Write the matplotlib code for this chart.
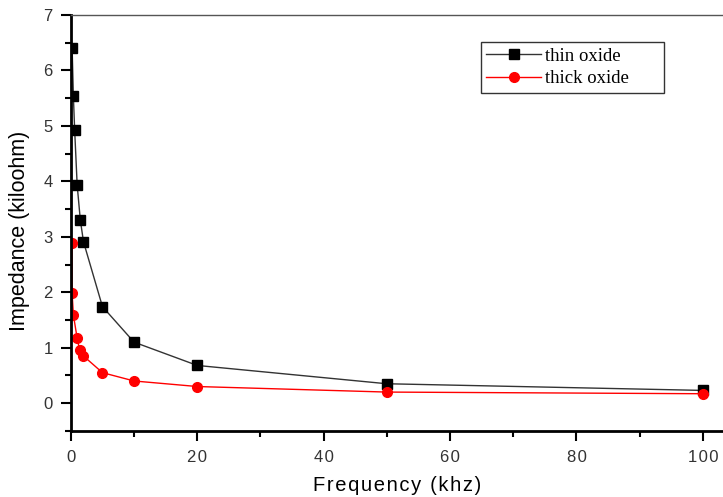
import matplotlib.pyplot as plt
from matplotlib.ticker import MultipleLocator

# frequency (khz) and impedance (kiloohm)
freq_thin = [0.2, 0.4, 0.6, 1.0, 1.5, 2, 5, 10, 20, 50, 100]
imp_thin = [6.41, 5.53, 4.93, 3.93, 3.30, 2.91, 1.74, 1.10, 0.68, 0.35, 0.23]

freq_thick = [0.2, 0.2, 0.4, 1.0, 1.4, 2, 5, 10, 20, 50, 100]
imp_thick = [2.89, 1.98, 1.59, 1.17, 0.95, 0.85, 0.55, 0.40, 0.30, 0.20, 0.17]

x_ticks = [0, 20, 40, 60, 80, 100]

fig = plt.figure(figsize=(7.23, 4.97), dpi=100)
ax = fig.add_axes([0.098, 0.133, 0.903, 0.837])

ax.plot(freq_thin, imp_thin, color="#333333", lw=1, marker="s", ms=7,
        mfc="black", mec="black", label="thin oxide")
ax.plot(freq_thick, imp_thick, color="red", lw=1, marker="o", ms=7,
        mfc="red", mec="red", label="thick oxide")

ax.set_xlim(0, 103.3)
ax.set_ylim(-0.5, 7)
ax.xaxis.set_minor_locator(MultipleLocator(10))
ax.yaxis.set_major_locator(MultipleLocator(1))
ax.yaxis.set_minor_locator(MultipleLocator(0.5))
ax.tick_params(which="major", direction="out", length=7, width=1.5,
               labelsize=12, colors="black")
ax.tick_params(which="minor", direction="out", length=4, width=1.5)
ax.tick_params(axis="y", labelcolor="#333333", pad=6)
ax.tick_params(axis="x", labelcolor="#333333", pad=7)

# spread out the digits of the x tick labels a little (hair spaces)
ax.set_xticks(x_ticks)
ax.set_xticklabels(["\u200a".join(str(t)) for t in x_ticks])
for lab in ax.get_xticklabels() + ax.get_yticklabels():
    lab.set_family("Liberation Sans")

ax.spines["left"].set_linewidth(2)
ax.spines["bottom"].set_linewidth(2)
ax.spines["top"].set_linewidth(1)
ax.spines["top"].set_color("#555555")
ax.spines["right"].set_visible(False)

ax.set_xlabel("\u200a".join("Frequency (khz)"), fontsize=14.5,
              family="Liberation Sans", labelpad=8)
ax.set_ylabel("Impedance (kiloohm)", fontsize=15.5, family="Liberation Sans")
ax.yaxis.set_label_coords(-0.063, 0.48)

leg = ax.legend(loc="upper left", bbox_to_anchor=(0.628, 0.815, 0.28, 0.12),
                mode="expand",
                prop={"family": "Liberation Serif", "size": 13.5},
                fancybox=False, framealpha=1, edgecolor="#333333",
                handlelength=2.9, borderpad=0.3, labelspacing=0.3,
                handletextpad=0.2, borderaxespad=0)
leg.get_frame().set_linewidth(1)

fig.savefig("out.png", dpi=100)
